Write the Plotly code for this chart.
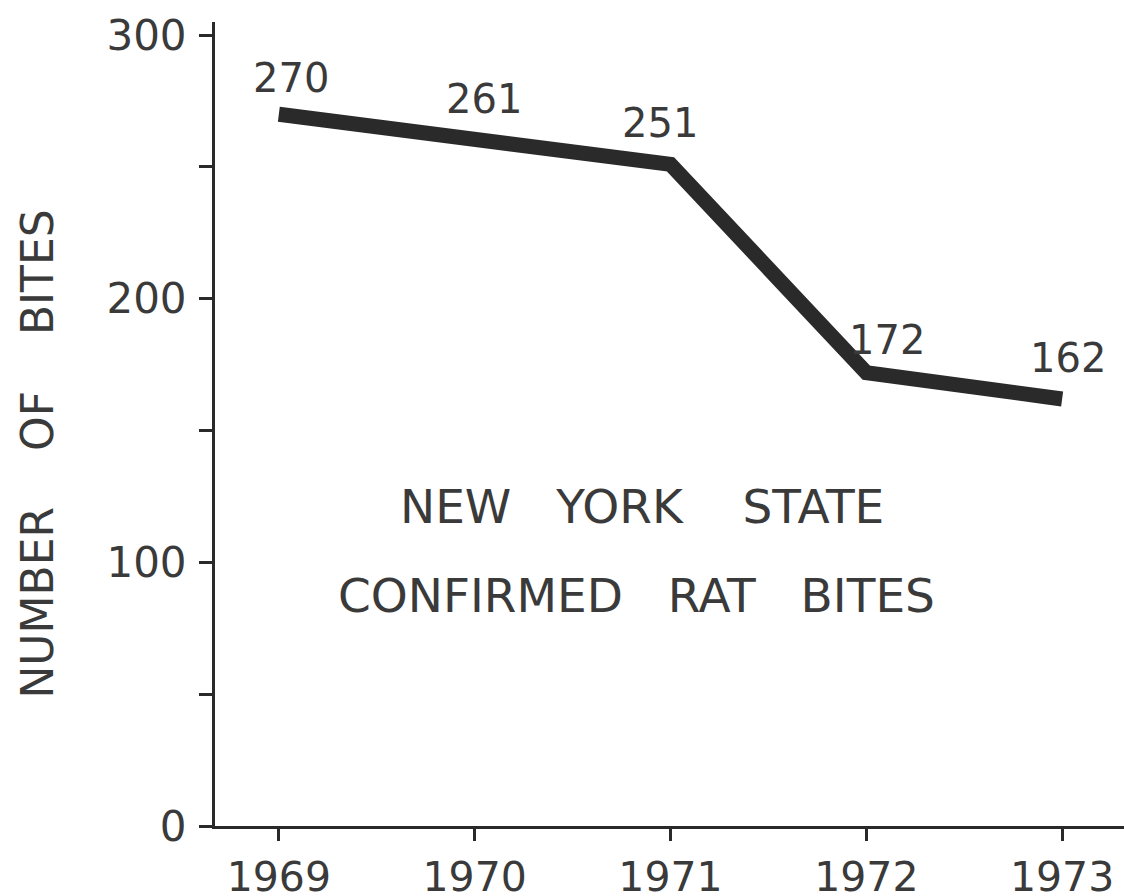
import plotly.graph_objects as go

years = [1969, 1970, 1971, 1972, 1973]
bites = [270, 261, 251, 172, 162]
value_labels = ["270", "261", "251", "172", "162"]
label_xshift = [12, 9, -10, 21, 6]
label_yshift = [36, 39, 41, 33, 41]
y_tickvals = [0, 100, 200, 300]
y_ticktext = ["0", "100", "200", "300"]
y_minor = [50, 150, 250]
NB = "\u00a0"
title_lines = ["NEW" + NB * 3 + "YORK" + NB * 4 + "STATE",
               "CONFIRMED" + NB * 3 + "RAT" + NB * 3 + "BITES"]
y_title = "NUMBER" + NB * 4 + "OF" + NB * 4 + "BITES"

INK = "#3a3a3a"
LINE = "#2a2a2a"
FONT = "'DejaVu Sans', sans-serif"

fig = go.Figure()
fig.add_trace(go.Scatter(
    x=years, y=bites, mode="lines",
    line=dict(color=LINE, width=15),
    hoverinfo="skip", showlegend=False,
))

for x, y, t, dx, dy in zip(years, bites, value_labels, label_xshift, label_yshift):
    fig.add_annotation(x=x, y=y, text=t, showarrow=False, xshift=dx, yshift=dy,
                       font=dict(family=FONT, size=40, color=INK))

fig.add_annotation(x=1970.857, y=121.3, text=title_lines[0], showarrow=False,
                   font=dict(family=FONT, size=47, color=INK))
fig.add_annotation(x=1970.827, y=87.5, text=title_lines[1], showarrow=False,
                   font=dict(family=FONT, size=47, color=INK))
fig.add_annotation(xref="paper", yref="paper", x=-0.1947, y=0.462, text=y_title,
                   textangle=-90, showarrow=False, xanchor="center", yanchor="middle",
                   font=dict(family=FONT, size=44, color=INK))

fig.update_layout(
    width=1124, height=896,
    margin=dict(l=215, r=0, t=22, b=70, autoexpand=False),
    paper_bgcolor="white", plot_bgcolor="white",
    font=dict(family=FONT, color=INK),
    xaxis=dict(range=[1968.674, 1973.316], tickvals=years,
               ticktext=[str(y) for y in years], automargin=False,
               showgrid=False, zeroline=False, showline=True, linecolor=LINE,
               linewidth=3, ticks="outside", ticklen=12, tickwidth=3, tickcolor=LINE,
               ticklabelstandoff=1,
               tickfont=dict(family=FONT, size=41, color=INK)),
    yaxis=dict(range=[0, 305], tickvals=y_tickvals, ticktext=y_ticktext,
               automargin=False,
               showgrid=False, zeroline=False, showline=True, linecolor=LINE,
               linewidth=3, ticks="outside", ticklen=13, tickwidth=3, tickcolor=LINE,
               ticklabelstandoff=4,
               minor=dict(tickvals=y_minor, ticks="outside", ticklen=13,
                          tickwidth=3, tickcolor=LINE, showgrid=False),
               tickfont=dict(family=FONT, size=42, color=INK)),
)

fig.write_html(
    "out.html",
    config={"displayModeBar": False},
    post_script="document.body.style.margin='0';document.body.style.overflow='hidden';",
)
